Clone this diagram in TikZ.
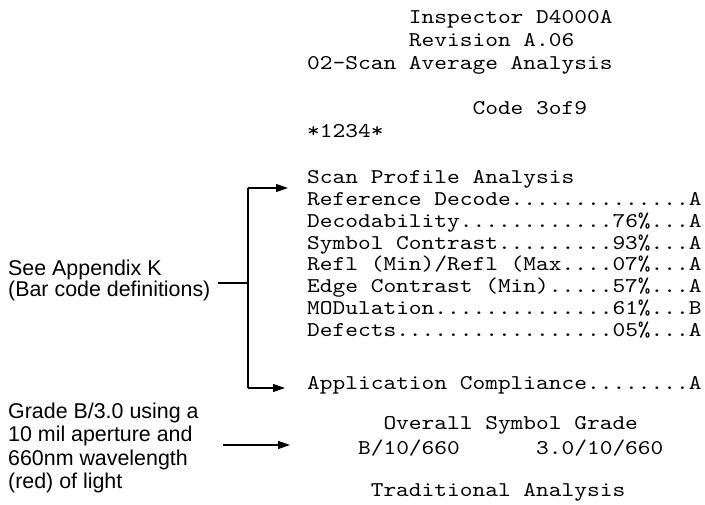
\documentclass[tikz,border=0pt]{standalone}
\usepackage{fontspec}
\setmainfont{Liberation Sans}
% typewriter face for the printed report, widened to a 12.72pt character cell
\newfontfamily\reportfont{lmmono10-regular.otf}[FakeStretch=1.154]
\usetikzlibrary{arrows.meta}
\newcommand{\cw}{12.72}
\begin{document}
\begin{tikzpicture}[x=1pt,y=-1pt,
  mono/.style={font=\reportfont\fontsize{21}{21.6}\selectfont, anchor=base west,
    inner sep=0pt, text height=12pt, text depth=3pt},
  note/.style={font=\fontsize{21.4}{23.4}\selectfont, anchor=west, inner sep=0pt, align=left},
  wire/.style={line width=1.2pt, line join=miter},
  tip/.style={-{Triangle[length=12pt,width=8pt]}}]
\useasboundingbox (0,0) rectangle (705,505);

% printed report, one node per line; x = left margin + leading spaces
\node[mono] (head1) at ({307+8*\cw},24)   {Inspector D4000A};
\node[mono] (head2) at ({307+8*\cw},47)   {Revision A.06};
\node[mono] (head3) at (307,70)           {02-Scan Average Analysis};
\node[mono] (code)  at ({307+13*\cw},115) {Code 3of9};
\node[mono] (data)  at (307,138)          {*1234*};
\node[mono] (scan)  at (307,184) {Scan Profile Analysis};
\node[mono] (ref)   at (307,206) {Reference Decode..............A};
\node[mono] (dec)   at (307,228) {Decodability............76\%...A};
\node[mono] (sc)    at (307,250) {Symbol Contrast.........93\%...A};
\node[mono] (refl)  at (307,271) {Refl (Min)/Refl (Max....07\%...A};
\node[mono] (ec)    at (307,293) {Edge Contrast (Min).....57\%...A};
\node[mono] (mod)   at (307,315) {MODulation..............61\%...B};
\node[mono] (def)   at (307,337) {Defects.................05\%...A};
\node[mono] (app)   at (307,389) {Application Compliance........A};
\node[mono] (osg)   at ({307+6*\cw},429) {Overall Symbol Grade};
\node[mono] (g1)    at ({307+4*\cw},454) {B/10/660};
\node[mono] (g2)    at ({307+18*\cw},454) {3.0/10/660};
\node[mono] (trad)  at ({307+5*\cw},496) {Traditional Analysis};

% side notes
\node[note, font=\fontsize{21.4}{19.5}\selectfont] (see) at (8,280)
  {See Appendix K\\(Bar code definitions)};
\node[note] (grade) at (8,448)
  {Grade B/3.0 using a\\10 mil aperture and\\660nm wavelength\\(red) of light};

% bracket spanning the scan profile section
\coordinate (brtop) at (248,188);
\coordinate (brmid) at (248,283);
\coordinate (brbot) at (248,388);
\coordinate (scantip) at (288,188);
\coordinate (apptip) at (285,388);
\draw[wire] (brtop) -- (brbot);
\draw[wire,tip] (brtop) -- (scantip);
\draw[wire,tip] (brbot) -- (apptip);
\draw[wire] ([xshift=7pt]see.east |- brmid) -- (brmid);

% grade arrow, level with its tip
\coordinate (gradetip) at (290,445);
\draw[wire,tip] ([xshift=24pt]grade.east |- gradetip) -- (gradetip);
\end{tikzpicture}
\end{document}
